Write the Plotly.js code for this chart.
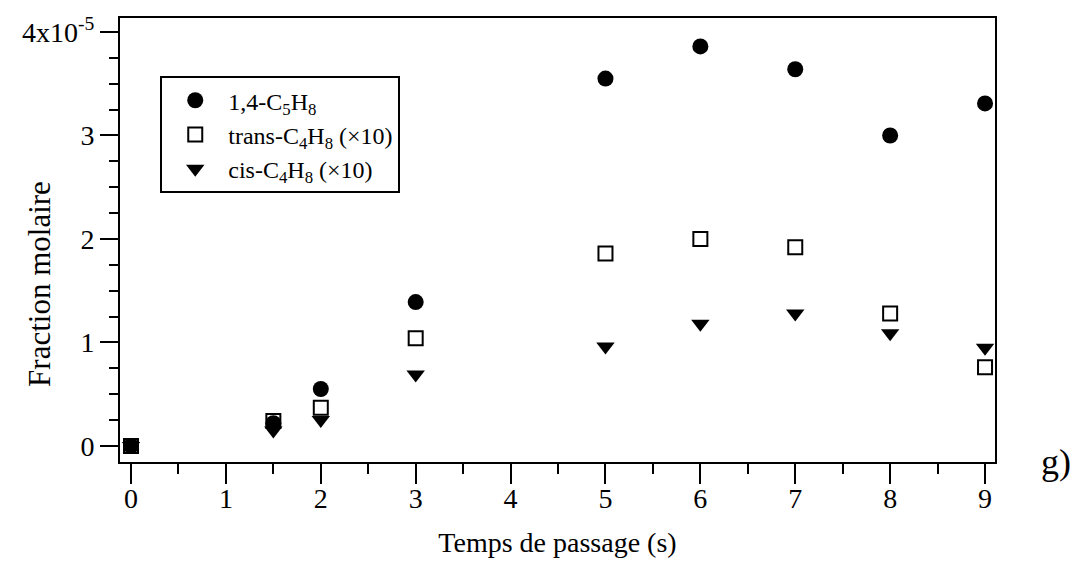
<!DOCTYPE html>
<html>
<head>
<meta charset="utf-8">
<script src="https://cdn.plot.ly/plotly-3.0.1.min.js"></script>
<style>html,body{margin:0;padding:0;background:#fff;}#chart{width:1090px;height:571px;}</style>
</head>
<body>
<div id="chart"></div>
<script>
// Temps de passage (s)
const temps = [0, 1.5, 2, 3, 5, 6, 7, 8, 9];
// Fractions molaires, in units of 1e-5
const c5h8_14 = [0, 0.22, 0.55, 1.39, 3.55, 3.86, 3.64, 3.00, 3.31];
const trans_c4h8_x10 = [0, 0.24, 0.37, 1.04, 1.86, 2.00, 1.92, 1.28, 0.76];
const cis_c4h8_x10 = [0, 0.15, 0.25, 0.69, 0.96, 1.18, 1.28, 1.09, 0.95];
const yTickVals = [0, 1, 2, 3, 4];
const yTickText = ['0', '1', '2', '3', '4x10<sup>-5</sup>'];
const xTickVals = [0, 1, 2, 3, 4, 5, 6, 7, 8, 9];

const serif = 'Liberation Serif, Times New Roman, serif';

const traces = [
  {x: temps, y: c5h8_14, mode: 'markers', type: 'scatter',
   name: '1,4-C<sub>5</sub>H<sub>8</sub>',
   marker: {symbol: 'circle', size: 16, color: '#000'}},
  {x: temps, y: trans_c4h8_x10, mode: 'markers', type: 'scatter',
   name: 'trans-C<sub>4</sub>H<sub>8</sub> (×10)',
   marker: {symbol: 'square-open', size: 14, color: '#000', line: {width: 2, color: '#000'}}},
  {x: temps, y: cis_c4h8_x10, mode: 'markers', type: 'scatter',
   name: 'cis-C<sub>4</sub>H<sub>8</sub> (×10)',
   marker: {symbol: 'triangle-down', size: 16, color: '#000'}}
];

const layout = {
  width: 1090, height: 571,
  paper_bgcolor: '#fff', plot_bgcolor: '#fff',
  margin: {l: 120, r: 95, t: 18, b: 109},
  font: {family: serif, color: '#000', size: 28},
  showlegend: true,
  legend: {
    x: 0.046, y: 0.869, xanchor: 'left', yanchor: 'top',
    bordercolor: '#000', borderwidth: 2, bgcolor: '#fff',
    font: {family: serif, size: 24, color: '#000'},
    itemwidth: 56, tracegroupgap: 0
  },
  xaxis: {
    range: [-0.116, 9.105],
    tickmode: 'array', tickvals: xTickVals,
    ticks: 'outside', ticklen: 20, tickwidth: 2, tickcolor: '#000',
    ticklabelstandoff: -10,
    minor: {tickmode: 'linear', tick0: 0.5, dtick: 1, ticks: 'outside', ticklen: 10, tickwidth: 2, tickcolor: '#000'},
    showline: true, linewidth: 2, linecolor: '#000', mirror: true,
    showgrid: false, zeroline: false,
    tickfont: {family: serif, size: 28},
    title: {text: 'Temps de passage (s)', font: {family: serif, size: 28}, standoff: 20}
  },
  yaxis: {
    range: [-0.155, 4.135],
    tickmode: 'array', tickvals: yTickVals, ticktext: yTickText,
    ticks: 'outside', ticklen: 18, tickwidth: 2, tickcolor: '#000',
    minor: {tickmode: 'linear', tick0: 0, dtick: 0.25, ticks: 'outside', ticklen: 9, tickwidth: 2, tickcolor: '#000'},
    showline: true, linewidth: 2, linecolor: '#000', mirror: true,
    showgrid: false, zeroline: false,
    tickfont: {family: serif, size: 28}
  },
  annotations: [
    {text: 'Fraction molaire', xref: 'paper', yref: 'paper', x: -0.092, y: 0.40,
     xanchor: 'center', yanchor: 'middle', textangle: -90, showarrow: false,
     font: {family: serif, size: 31, color: '#000'}},
    {text: 'g)', xref: 'paper', yref: 'paper', x: 1.05, y: 0.0, xanchor: 'left', yanchor: 'middle',
     showarrow: false, font: {family: serif, size: 36, color: '#000'}}
  ]
};

Plotly.newPlot('chart', traces, layout, {displayModeBar: false, staticPlot: true});
</script>
</body>
</html>
